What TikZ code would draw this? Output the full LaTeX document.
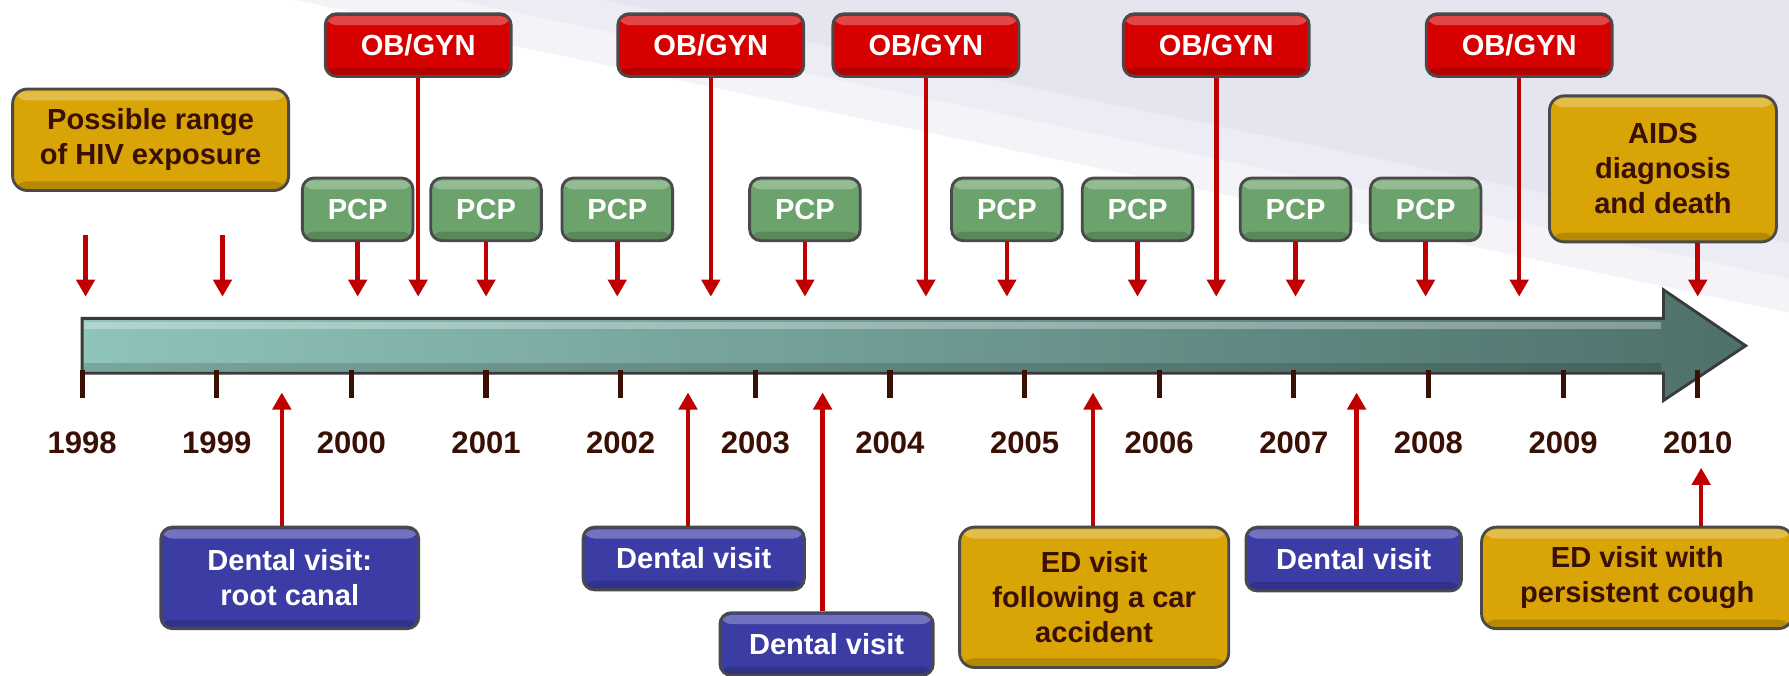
\documentclass[tikz,border=0pt]{standalone}
\usepackage{fontspec}
\setmainfont{Liberation Sans}
\usetikzlibrary{arrows.meta}
\definecolor{obred}{HTML}{D60000}
\definecolor{pcpgreen}{HTML}{6CA36C}
\definecolor{dentblue}{HTML}{3B3DA5}
\definecolor{notegold}{HTML}{D9A405}
\definecolor{notebrown}{HTML}{3A1005}
\definecolor{arrowred}{HTML}{C00000}
\definecolor{barlight}{HTML}{8FC4BA}
\definecolor{bardark}{HTML}{4E706B}
\definecolor{barline}{HTML}{3A3A3A}
\definecolor{boxline}{HTML}{4A4A4A}
\definecolor{bgmauve}{HTML}{E5E5F0}
\definecolor{bgmid}{HTML}{ECECF4}
\definecolor{bgpale}{HTML}{F3F3F8}
\tikzstyle{event}=[
	rectangle,
	rounded corners=0.2cm,
	draw=boxline,
	line width=0.05cm,
	inner sep=0pt,
	align=center,
	font=\bfseries\fontsize{14.5}{17.5}\selectfont,
	path picture={
		\fill[white,opacity=0.28] ([yshift=-0.04cm]path picture bounding box.north west) rectangle ([yshift=-0.2cm]path picture bounding box.north east);
		\fill[black,opacity=0.16] ([yshift=0.16cm]path picture bounding box.south west) rectangle (path picture bounding box.south east);
	}
]
\tikzstyle{obgyn}=[event, fill=obred, text=white, minimum width=3.26cm, minimum height=1.1cm]
\tikzstyle{pcp}=[event, fill=pcpgreen, text=white, minimum width=1.94cm, minimum height=1.1cm]
\tikzstyle{dental}=[event, fill=dentblue, text=white]
\tikzstyle{note}=[event, fill=notegold, text=notebrown, rounded corners=0.26cm]
\tikzstyle{visit}=[
	-{Triangle[width=0.32cm,length=0.3cm]},
	line width=0.08cm,
	draw=arrowred
]
\tikzstyle{yeartick}=[line width=0.09cm, draw=notebrown]
\tikzstyle{year}=[text=notebrown, font=\bfseries\fontsize{15.5}{18}\selectfont]

\begin{document}
\begin{tikzpicture}[x=0.02cm,y=-0.02cm]
\useasboundingbox (0,0) rectangle (1568,592);
% background wedge
\fill[bgpale] (259,0) -- (1568,0) -- (1568,274) -- cycle;
\fill[bgmid] (400,0) -- (1568,0) -- (1568,244) -- cycle;
\fill[bgmauve] (530,0) -- (1568,0) -- (1568,213) -- cycle;
% timeline
\path[draw=barline, line width=0.05cm, left color=barlight, right color=bardark]
	(72,279) -- (1458,279) -- (1458,254) -- (1530,303) -- (1458,351) -- (1458,327) -- (72,327) -- cycle;
\fill[white,opacity=0.3] (74,282) rectangle (1456,288);
\fill[black,opacity=0.15] (74,318) rectangle (1456,325);
\foreach \yr [count=\i from 0] in {1998,...,2010}{
	\coordinate (t\yr) at (72+118*\i,324);
	\draw[yeartick] (t\yr) -- ++(0,25);
	\node[year] (y\yr) at (72+118*\i,388) {\yr};
}
\coordinate (top) at (0,260);
% above the line
\node[note, minimum width=4.84cm, minimum height=1.78cm] (range) at (132,122.5) {Possible range\\of HIV exposure};
\node[note, minimum width=3.98cm, minimum height=2.56cm] (aids) at (1457.5,148) {AIDS\\diagnosis\\and death};
\node[obgyn] (ob1) at (366.5,39.5) {OB/GYN};
\node[obgyn] (ob2) at (623,39.5) {OB/GYN};
\node[obgyn] (ob3) at (811.5,39.5) {OB/GYN};
\node[obgyn] (ob4) at (1066,39.5) {OB/GYN};
\node[obgyn] (ob5) at (1331.5,39.5) {OB/GYN};
\node[pcp] (pcp1) at (313.5,183.5) {PCP};
\node[pcp] (pcp2) at (426,183.5) {PCP};
\node[pcp] (pcp3) at (541,183.5) {PCP};
\node[pcp] (pcp4) at (705.5,183.5) {PCP};
\node[pcp] (pcp5) at (882.5,183.5) {PCP};
\node[pcp] (pcp6) at (997,183.5) {PCP};
\node[pcp] (pcp7) at (1135.5,183.5) {PCP};
\node[pcp] (pcp8) at (1249.5,183.5) {PCP};
\coordinate (r1) at (75,206);
\coordinate (r2) at (195,206);
\draw[visit] (r1) -- (r1 |- top);
\draw[visit] (r2) -- (r2 |- top);
\foreach \n in {ob1,ob2,ob3,ob4,ob5,pcp1,pcp2,pcp3,pcp4,pcp5,pcp6,pcp7,pcp8}
	\draw[visit] (\n.south) -- (\n.south |- top);
\draw[visit] (aids.south -| t2010) -- (t2010 |- top);
% below the line
\node[dental, minimum width=4.52cm, minimum height=1.78cm] (root) at (254,506.5) {Dental visit:\\root canal};
\node[dental, minimum width=3.88cm, minimum height=1.1cm] (den2) at (608,489.5) {Dental visit};
\node[dental, minimum width=3.74cm, minimum height=1.1cm] (den3) at (724.5,564.5) {Dental visit};
\node[note, minimum width=4.72cm, minimum height=2.46cm] (car) at (959,523.5) {ED visit\\following a car\\accident};
\node[dental, minimum width=3.78cm, minimum height=1.12cm] (den4) at (1186.5,490) {Dental visit};
\node[note, minimum width=5.46cm, minimum height=1.78cm] (cough) at (1435,506.5) {ED visit with\\persistent cough};
\coordinate (a1) at (247,344);
\coordinate (a2) at (603,344);
\coordinate (a3) at (721,344);
\coordinate (a4) at (958,344);
\coordinate (a5) at (1189,344);
\coordinate (a6) at (1491,410);
\draw[visit] (root.north -| a1) -- (a1);
\draw[visit] (den2.north -| a2) -- (a2);
\draw[visit] (den3.north -| a3) -- (a3);
\draw[visit] (car.north -| a4) -- (a4);
\draw[visit] (den4.north -| a5) -- (a5);
\draw[visit] (cough.north -| a6) -- (a6);
\end{tikzpicture}
\end{document}
